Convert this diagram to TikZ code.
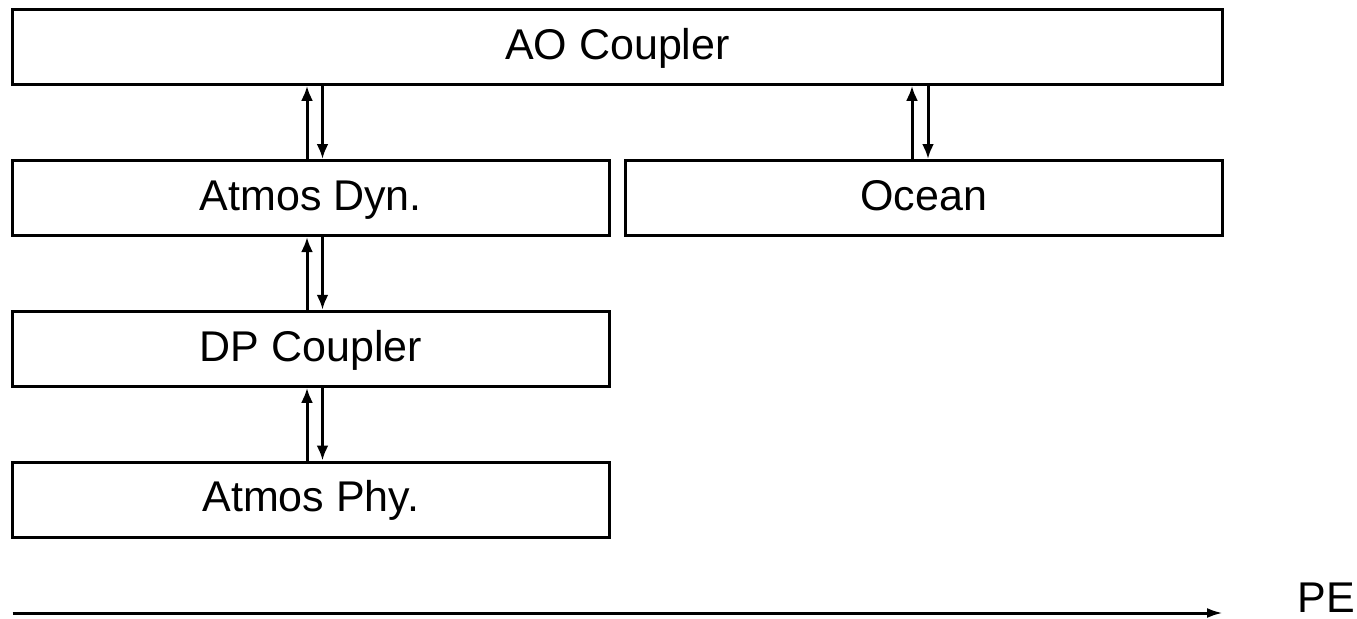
\documentclass[tikz,border=0pt]{standalone}
\usepackage{fontspec}
\setmainfont{Liberation Sans}
\usetikzlibrary{arrows.meta}
\begin{document}
\begin{tikzpicture}[x=0.5pt,y=-0.5pt,
  lbl/.style={font=\fontsize{21.5}{25}\selectfont},
  box/.style={lbl, draw, line width=1.5pt, inner sep=0pt, minimum height=37.5pt,
    text height=16.8pt, text depth=4.5pt},
  arr/.style={line width=1.5pt, -{Latex[length=7.5pt,width=6pt]}},
  axisarr/.style={line width=1.5pt, -{Latex[length=8pt,width=5pt]}}]
\useasboundingbox (0,0) rectangle (1357,618);
\node[box, minimum width=605pt] (ao) at (617.5,46.75) {AO Coupler};
\node[box, minimum width=298.25pt] (dyn) at (310.75,198) {Atmos Dyn.};
\node[box, minimum width=298.75pt] (ocean) at (923.75,198) {Ocean};
\node[box, minimum width=298.25pt] (dp) at (310.75,348.75) {DP Coupler};
\node[box, minimum width=298.25pt] (phy) at (310.75,499.5) {Atmos Phy.};
\coordinate (lu) at (307,0);
\coordinate (ld) at (322.5,0);
\coordinate (ru) at (912,0);
\coordinate (rd) at (928,0);
% left column
\draw[arr] (lu |- dyn.north) -- (lu |- ao.south);
\draw[arr] (ld |- ao.south) -- (ld |- dyn.north);
\draw[arr] (lu |- dp.north) -- (lu |- dyn.south);
\draw[arr] (ld |- dyn.south) -- (ld |- dp.north);
\draw[arr] (lu |- phy.north) -- (lu |- dp.south);
\draw[arr] (ld |- dp.south) -- (ld |- phy.north);
% right column
\draw[arr] (ru |- ocean.north) -- (ru |- ao.south);
\draw[arr] (rd |- ao.south) -- (rd |- ocean.north);
% PE axis
\coordinate (ps) at (12.5,613);
\coordinate (pe) at (1223,613);
\draw[axisarr] (ps) -- (pe);
\node[lbl, inner sep=0pt, anchor=base west] (pelabel) at (1297.5,612.7) {PE};
\end{tikzpicture}
\end{document}
